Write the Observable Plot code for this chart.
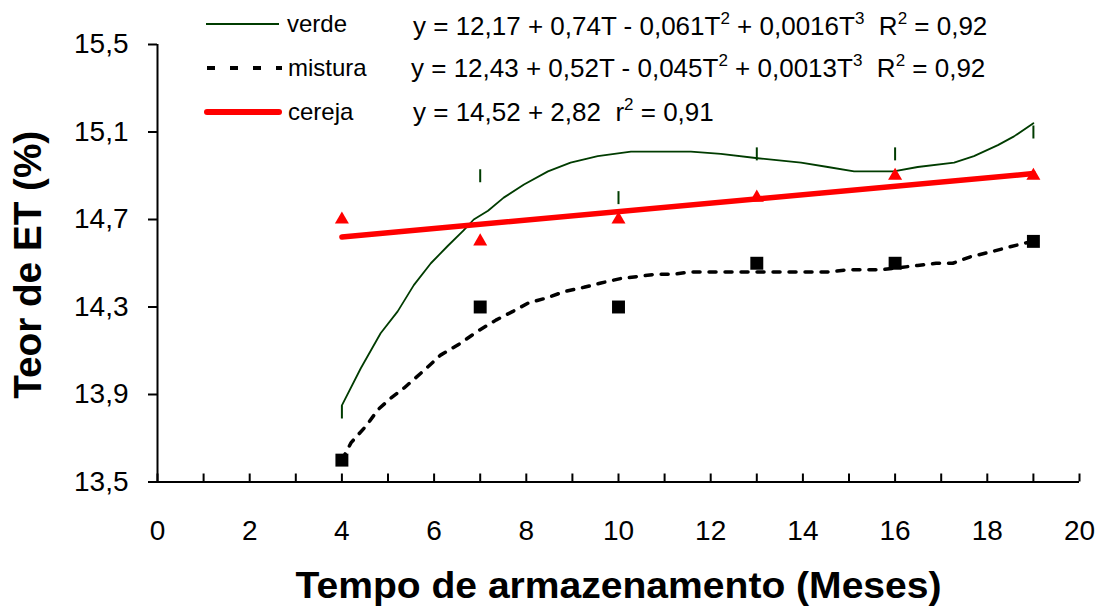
<!DOCTYPE html>
<html>
<head>
<meta charset="utf-8">
<script src="https://cdn.jsdelivr.net/npm/d3@7"></script>
<script src="https://cdn.jsdelivr.net/npm/@observablehq/plot@0.6"></script>
<style>
  html, body { margin: 0; padding: 0; background: #fff; }
  #chart { position: relative; width: 1101px; height: 609px; }
</style>
</head>
<body>
<div id="chart"></div>
<script>
// ---- data ----
const months = [4, 7, 10, 13, 16, 19];
const verde = [13.82, 14.90, 14.80, 15.00, 15.00, 15.10];
const mistura = [13.60, 14.30, 14.30, 14.50, 14.50, 14.60];
const cereja = [14.70, 14.60, 14.70, 14.80, 14.90, 14.90];

const verdeCurveT = [4.00, 4.41, 4.84, 5.21, 5.56, 5.93, 6.30, 6.64, 6.86, 7.17, 7.51, 7.95, 8.47, 8.96, 9.55, 10.27, 11.57, 12.22, 13.02, 13.96, 14.54, 15.11, 15.97, 16.49, 17.28, 17.71, 18.23, 18.58, 19.00];
const verdeCurveY = [13.85, 14.02, 14.18, 14.28, 14.40, 14.50, 14.58, 14.65, 14.70, 14.74, 14.80, 14.86, 14.92, 14.96, 14.99, 15.01, 15.01, 15.00, 14.98, 14.96, 14.94, 14.92, 14.92, 14.94, 14.96, 14.99, 15.04, 15.08, 15.14];

const misturaCurveT = [4.00, 4.20, 4.54, 4.78, 5.04, 5.35, 5.78, 6.14, 6.54, 6.95, 7.34, 7.71, 8.06, 8.42, 8.82, 9.25, 9.62, 10.05, 10.44, 10.81, 11.18, 11.57, 11.96, 12.72, 13.37, 14.10, 14.54, 14.97, 15.69, 16.49, 16.89, 17.25, 17.64, 18.04, 18.40, 18.77, 19.00];
const misturaCurveY = [13.60, 13.68, 13.76, 13.83, 13.88, 13.93, 14.01, 14.08, 14.13, 14.19, 14.24, 14.28, 14.32, 14.34, 14.37, 14.39, 14.41, 14.43, 14.44, 14.45, 14.45, 14.46, 14.46, 14.46, 14.46, 14.46, 14.46, 14.47, 14.47, 14.49, 14.50, 14.50, 14.53, 14.55, 14.57, 14.59, 14.60];

const cerejaFitT = [4, 19];
const cerejaFitY = [14.62, 14.91];

const yTicks = [13.5, 13.9, 14.3, 14.7, 15.1, 15.5];
const xLabelTicks = [0, 2, 4, 6, 8, 10, 12, 14, 16, 18, 20];
const xMinorTicks = d3.range(0, 21);

const seriesNames = ["verde", "mistura", "cereja"];
const equations = [
  "y = 12,17 + 0,74T - 0,061T^2 + 0,0016T^3  R^2 = 0,92",
  "y = 12,43 + 0,52T - 0,045T^2 + 0,0013T^3  R^2 = 0,92",
  "y = 14,52 + 2,82  r^2 = 0,91"
];
const xTitle = "Tempo de armazenamento (Meses)";
const yTitle = "Teor de ET (%)";

// ---- tables ----
const pts = months.map((t, i) => ({t, verde: verde[i], mistura: mistura[i], cereja: cereja[i]}));
const vCurve = verdeCurveT.map((t, i) => ({t, y: verdeCurveY[i]}));
const mCurve = misturaCurveT.map((t, i) => ({t, y: misturaCurveY[i]}));
const cFit = cerejaFitT.map((t, i) => ({t, y: cerejaFitY[i]}));

const GREEN = "#003c00";
const RED = "#ff0000";
const FONT = "'Liberation Sans', Arial, Helvetica, sans-serif";
const fmt = d => d.toFixed(1).replace(".", ",");

const vbar = {
  draw(ctx, size) {
    const r = Math.sqrt(size / Math.PI);
    ctx.moveTo(0, -r);
    ctx.lineTo(0, r);
  }
};

const chart = Plot.plot({
  width: 1101,
  height: 609,
  marginLeft: 157,
  marginRight: 22,
  marginTop: 44,
  marginBottom: 127.5,
  x: {domain: [0, 20]},
  y: {domain: [13.5, 15.5]},
  style: {fontFamily: FONT, color: "#000", background: "#fff", overflow: "visible"},
  marks: [
    Plot.ruleX([0], {strokeWidth: 2, stroke: "#000"}),
    Plot.ruleY([13.5], {strokeWidth: 2, stroke: "#000"}),
    Plot.axisY({ticks: yTicks, tickSize: 9, tickPadding: 20, tickFormat: fmt, fontSize: 28, strokeWidth: 2, label: null}),
    Plot.axisX({ticks: xLabelTicks, tickSize: 0, tickPadding: 38, tickFormat: d => String(d), fontSize: 28, label: null}),
    Plot.axisX({ticks: xMinorTicks, tickSize: 8, dy: -8, tickFormat: () => "", strokeWidth: 2, label: null}),
    Plot.text([xTitle], {frameAnchor: "bottom", dy: 104, lineAnchor: "middle", textAnchor: "middle", fontSize: 36, fontWeight: "bold", fill: "#000"}),
    Plot.text([yTitle], {frameAnchor: "left", dx: -129, dy: 1.5, rotate: -90, lineAnchor: "middle", textAnchor: "middle", fontSize: 38, fontWeight: "bold", fill: "#000"}),
    Plot.line(vCurve, {x: "t", y: "y", stroke: GREEN, strokeWidth: 1.8}),
    Plot.line(mCurve, {x: "t", y: "y", stroke: "#000", strokeWidth: 3.5, strokeDasharray: "7,9"}),
    Plot.line(cFit, {x: "t", y: "y", stroke: RED, strokeWidth: 5.5, strokeLinecap: "round"}),
    Plot.dot(pts, {x: "t", y: "verde", symbol: vbar, r: 6.5, stroke: GREEN, strokeWidth: 2, fill: "none"}),
    Plot.dot(pts, {x: "t", y: "mistura", symbol: "square", r: 7.3, fill: "#000", stroke: "none"}),
    Plot.dot(pts, {x: "t", y: "cereja", symbol: "triangle", r: 5.2, fill: RED, stroke: "none"})
  ]
});

document.getElementById("chart").appendChild(chart);

const svg = d3.select(chart);

// stretch axis titles to the reference's width
svg.selectAll("text").filter(function() { return this.textContent === xTitle; })
  .attr("textLength", 646).attr("lengthAdjust", "spacingAndGlyphs");
svg.selectAll("text").filter(function() { return this.textContent === yTitle; })
  .attr("textLength", 268).attr("lengthAdjust", "spacingAndGlyphs");

// ---- legend (drawn into the same SVG) ----
const lg = svg.append("g").attr("font-family", FONT).attr("fill", "#000").attr("text-anchor", "start");
const rows = [
  {sy: 24, lx: 287, ly: 32, ex: 413, ey: 35, stroke: GREEN, sw: 1.8, dash: null, cap: "butt"},
  {sy: 68, lx: 288, ly: 76, ex: 411, ey: 77, stroke: "#000", sw: 4, dash: "8,15", cap: "butt"},
  {sy: 112, lx: 288, ly: 120, ex: 413, ey: 121, stroke: RED, sw: 6, dash: null, cap: "round"}
];
rows.forEach((r, i) => {
  lg.append("line")
    .attr("x1", i === 0 ? 206 : 207).attr("x2", i === 1 ? 282 : 279)
    .attr("y1", r.sy).attr("y2", r.sy)
    .attr("stroke", r.stroke).attr("stroke-width", r.sw)
    .attr("stroke-dasharray", r.dash).attr("stroke-linecap", r.cap);
  lg.append("text").attr("x", r.lx).attr("y", r.ly).attr("font-size", 24).text(seriesNames[i]);
  const t = lg.append("text").attr("x", r.ex).attr("y", r.ey).attr("font-size", 26)
    .attr("xml:space", "preserve").style("white-space", "pre");
  const parts = equations[i].split(/\^(\d)/);
  let raised = false;
  parts.forEach((p, k) => {
    if (k % 2 === 0) {
      if (p) {
        const s = t.append("tspan").text(p);
        if (raised) { s.attr("dy", 11); raised = false; }
      }
    } else {
      t.append("tspan").attr("font-size", 17).attr("dy", -11).text(p);
      raised = true;
    }
  });
});
</script>
</body>
</html>
